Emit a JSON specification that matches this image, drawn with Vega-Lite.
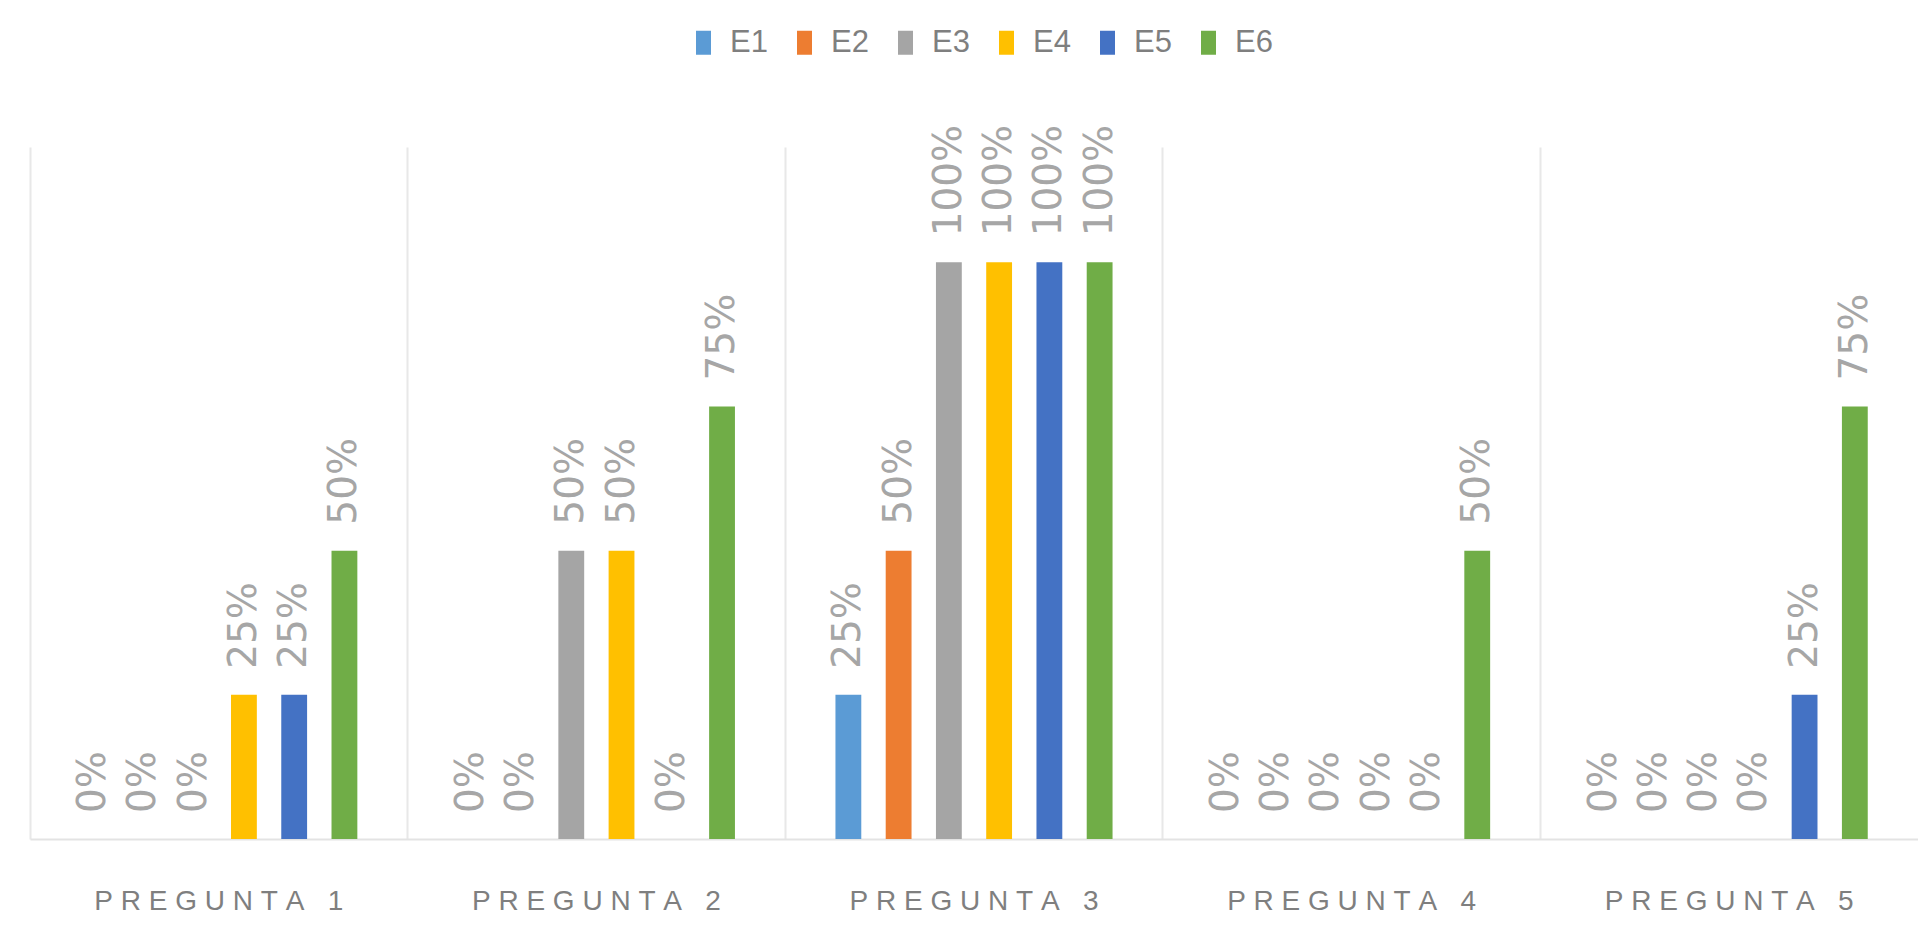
{
  "$schema": "https://vega.github.io/schema/vega-lite/v6.json",
  "autosize": {"type": "none"},
  "width": 1888,
  "height": 692,
  "padding": {"left": 30, "top": 147, "right": 0, "bottom": 87},
  "background": "white",
  "data": {
    "values": [
      {"pregunta": "PREGUNTA 1", "serie": "E1", "valor": 0},
      {"pregunta": "PREGUNTA 1", "serie": "E2", "valor": 0},
      {"pregunta": "PREGUNTA 1", "serie": "E3", "valor": 0},
      {"pregunta": "PREGUNTA 1", "serie": "E4", "valor": 0.25},
      {"pregunta": "PREGUNTA 1", "serie": "E5", "valor": 0.25},
      {"pregunta": "PREGUNTA 1", "serie": "E6", "valor": 0.5},
      {"pregunta": "PREGUNTA 2", "serie": "E1", "valor": 0},
      {"pregunta": "PREGUNTA 2", "serie": "E2", "valor": 0},
      {"pregunta": "PREGUNTA 2", "serie": "E3", "valor": 0.5},
      {"pregunta": "PREGUNTA 2", "serie": "E4", "valor": 0.5},
      {"pregunta": "PREGUNTA 2", "serie": "E5", "valor": 0},
      {"pregunta": "PREGUNTA 2", "serie": "E6", "valor": 0.75},
      {"pregunta": "PREGUNTA 3", "serie": "E1", "valor": 0.25},
      {"pregunta": "PREGUNTA 3", "serie": "E2", "valor": 0.5},
      {"pregunta": "PREGUNTA 3", "serie": "E3", "valor": 1},
      {"pregunta": "PREGUNTA 3", "serie": "E4", "valor": 1},
      {"pregunta": "PREGUNTA 3", "serie": "E5", "valor": 1},
      {"pregunta": "PREGUNTA 3", "serie": "E6", "valor": 1},
      {"pregunta": "PREGUNTA 4", "serie": "E1", "valor": 0},
      {"pregunta": "PREGUNTA 4", "serie": "E2", "valor": 0},
      {"pregunta": "PREGUNTA 4", "serie": "E3", "valor": 0},
      {"pregunta": "PREGUNTA 4", "serie": "E4", "valor": 0},
      {"pregunta": "PREGUNTA 4", "serie": "E5", "valor": 0},
      {"pregunta": "PREGUNTA 4", "serie": "E6", "valor": 0.5},
      {"pregunta": "PREGUNTA 5", "serie": "E1", "valor": 0},
      {"pregunta": "PREGUNTA 5", "serie": "E2", "valor": 0},
      {"pregunta": "PREGUNTA 5", "serie": "E3", "valor": 0},
      {"pregunta": "PREGUNTA 5", "serie": "E4", "valor": 0},
      {"pregunta": "PREGUNTA 5", "serie": "E5", "valor": 0.25},
      {"pregunta": "PREGUNTA 5", "serie": "E6", "valor": 0.75}
    ]
  },
  "encoding": {
    "x": {
      "field": "pregunta",
      "type": "nominal",
      "sort": null,
      "title": null,
      "scale": {"paddingInner": 0, "paddingOuter": 0},
      "axis": {
        "grid": true,
        "bandPosition": 0,
        "gridColor": "#e8e8e8",
        "gridWidth": 2,
        "ticks": false,
        "domainColor": "#e3e3e3",
        "domainWidth": 2,
        "labelAngle": 0,
        "labelPadding": 48,
        "labelLimit": 0,
        "labelFont": "Liberation Sans",
        "labelFontSize": 28,
        "labelColor": "#7f7f7f",
        "labelExpr": "join(split(datum.label, ''), '\u00a0')"
      }
    },
    "xOffset": {
      "field": "serie",
      "type": "nominal",
      "scale": {"paddingInner": 0.486, "paddingOuter": 1.2}
    },
    "y": {
      "field": "valor",
      "type": "quantitative",
      "scale": {"domain": [0, 1.2], "nice": false},
      "axis": null
    }
  },
  "layer": [
    {
      "mark": {"type": "bar"},
      "encoding": {
        "color": {
          "field": "serie",
          "type": "nominal",
          "scale": {
            "domain": ["E1", "E2", "E3", "E4", "E5", "E6"],
            "range": ["#5B9BD5", "#ED7D31", "#A5A5A5", "#FFC000", "#4472C4", "#70AD47"]
          },
          "legend": {
            "title": null,
            "orient": "none",
            "direction": "horizontal",
            "legendX": 658,
            "legendY": -120,
            "symbolType": "M-0.625,-1H0.625V1H-0.625Z",
            "symbolSize": 576,
            "symbolStrokeWidth": 0,
            "labelFont": "Liberation Sans",
            "labelFontSize": 31,
            "labelColor": "#7f7f7f",
            "labelOffset": 11,
            "columnPadding": 21
          }
        }
      }
    },
    {
      "mark": {
        "type": "text",
        "angle": 270,
        "align": "left",
        "baseline": "middle",
        "dx": 26,
        "font": "DejaVu Sans",
        "fontSize": 39,
        "color": "#a6a6a6"
      },
      "encoding": {
        "text": {"field": "valor", "type": "quantitative", "format": ".0%"}
      }
    }
  ],
  "config": {
    "view": {"stroke": null}
  }
}
